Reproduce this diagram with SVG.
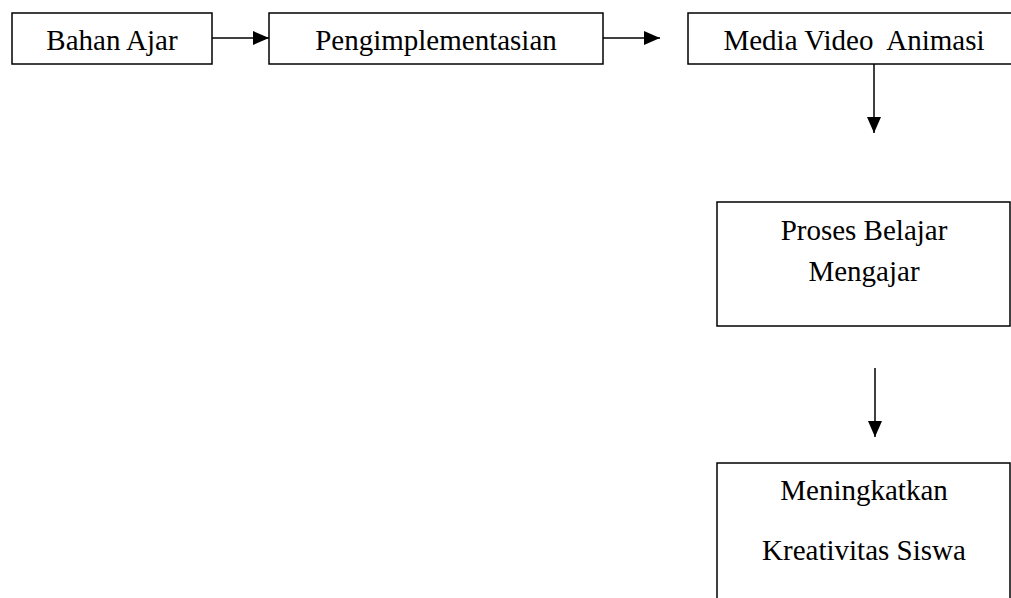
<svg xmlns="http://www.w3.org/2000/svg" width="1011" height="598" viewBox="0 0 1011 598">
<style>
.box{fill:#fff;stroke:#000;stroke-width:1.5}
.t{font-family:'Liberation Serif','Times New Roman','DejaVu Serif',serif;font-size:29px;fill:#000;text-anchor:middle}
.c{stroke:#000;stroke-width:1.5;fill:none}
</style>
<defs>
<marker id="ah" markerUnits="userSpaceOnUse" markerWidth="16" markerHeight="14" refX="16" refY="7" orient="auto">
<path d="M0,0 L16,7 L0,14 Z" fill="#000"/>
</marker>
</defs>
<rect width="1011" height="598" fill="#fff"/>
<g id="connectors">
<line class="c" x1="212" y1="38" x2="269" y2="38" marker-end="url(#ah)"/>
<line class="c" x1="603" y1="38" x2="660" y2="38" marker-end="url(#ah)"/>
<line class="c" x1="874" y1="64" x2="874" y2="133" marker-end="url(#ah)"/>
<line class="c" x1="875" y1="368" x2="875" y2="437" marker-end="url(#ah)"/>
</g>
<g id="bahan-ajar">
<rect class="box" x="12" y="13" width="200" height="51"/>
<text class="t" x="112" y="50" font-family="Liberation Serif, serif">Bahan Ajar</text>
</g>
<g id="pengimplementasian">
<rect class="box" x="269" y="13" width="334" height="51"/>
<text class="t" x="436" y="50" font-family="Liberation Serif, serif">Pengimplementasian</text>
</g>
<g id="media-video">
<rect class="box" x="688" y="13" width="340" height="51"/>
<text class="t" x="854" y="50" font-family="Liberation Serif, serif" xml:space="preserve">Media Video  Animasi</text>
</g>
<g id="proses-belajar">
<rect class="box" x="717" y="202" width="293" height="124"/>
<text class="t" x="864" y="240" font-family="Liberation Serif, serif">Proses Belajar</text>
<text class="t" x="864" y="281" font-family="Liberation Serif, serif">Mengajar</text>
</g>
<g id="meningkatkan">
<rect class="box" x="717" y="463" width="293" height="150"/>
<text class="t" x="864" y="500" font-family="Liberation Serif, serif">Meningkatkan</text>
<text class="t" x="864" y="560" font-family="Liberation Serif, serif">Kreativitas Siswa</text>
</g>
</svg>
